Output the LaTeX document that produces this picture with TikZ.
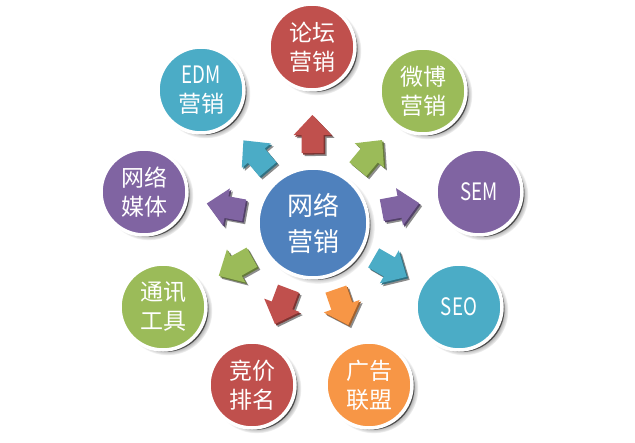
\documentclass[tikz,border=0pt]{standalone}
\usepackage{fontspec}
\newfontfamily\cjk{Noto Sans CJK SC}
\usetikzlibrary{shadows,calc,fadings}
\definecolor{cred}{HTML}{C0504D}
\definecolor{cblue}{HTML}{4F81BD}
\definecolor{caqua}{HTML}{4BACC6}
\definecolor{cgreen}{HTML}{9BBB59}
\definecolor{cpurple}{HTML}{8064A2}
\definecolor{corange}{HTML}{F79646}
\newcommand\latn[1]{\scalebox{0.78}[1]{\fontsize{24}{29}\selectfont #1}}
\begin{document}
\begin{tikzpicture}[x=1pt,y=-1pt,
  bubble/.style={circle, fill=#1, draw=white, line width=3.5pt, minimum size=86pt,
    inner sep=0pt, text=white, align=center,
    font=\cjk\fontsize{23}{29}\selectfont,
    circular drop shadow={shadow xshift=4.5pt, shadow yshift=-3.5pt, shadow scale=1.04, opacity=0.8},
    drop shadow={shadow xshift=2.5pt, shadow yshift=-2pt, opacity=0.55, fill=black}},
  hub/.style={bubble=cblue, minimum size=110pt, font=\cjk\fontsize{26}{36}\selectfont},
  arrowbody/.style={fill=#1,
    drop shadow={shadow xshift=3pt, shadow yshift=-3pt, opacity=0.45, fill=black},
    preaction={fill=#1!65!black, transform canvas={shift={(1.5pt,-1.5pt)}}}},
  ]
\fill[white] (0,0) rectangle (635,443);
\useasboundingbox (0,0) rectangle (635,443);

\node[hub] (c) at (313,223) {网络\\营销};
\node[bubble=cred]    (o1) at (312,47)  {论坛\\营销};
\node[bubble=caqua]   (o2) at (201,90)  {\latn{EDM}\\营销};
\node[bubble=cgreen]  (o3) at (423,91)  {微博\\营销};
\node[bubble=cpurple] (o4) at (144,192) {网络\\媒体};
\node[bubble=cpurple] (o5) at (479,192) {\latn{SEM}};
\node[bubble=cgreen]  (o6) at (163,307) {通讯\\工具};
\node[bubble=caqua]   (o7) at (459,307) {\latn{SEO}};
\node[bubble=cred]    (o8) at (252,385) {竞价\\排名};
\node[bubble=corange] (o9) at (369,385) {广告\\联盟};

\foreach \o/\col in {o1/cred,o2/caqua,o3/cgreen,o4/cpurple,o5/cpurple,o6/cgreen,o7/caqua,o8/cred,o9/corange}{
  \coordinate (t) at ($(c)!70pt!(\o)$);
  \coordinate (h) at ($(c)!88pt!(\o)$);
  \coordinate (p) at ($(c)!108pt!(\o)$);
  \path[arrowbody=\col] ($(t)!11pt!90:(p)$) -- ($(h)!11pt!90:(p)$) -- ($(h)!19pt!90:(p)$)
    -- (p) -- ($(h)!19pt!-90:(p)$) -- ($(h)!11pt!-90:(p)$) -- ($(t)!11pt!-90:(p)$) -- cycle;
}
\end{tikzpicture}
\end{document}
